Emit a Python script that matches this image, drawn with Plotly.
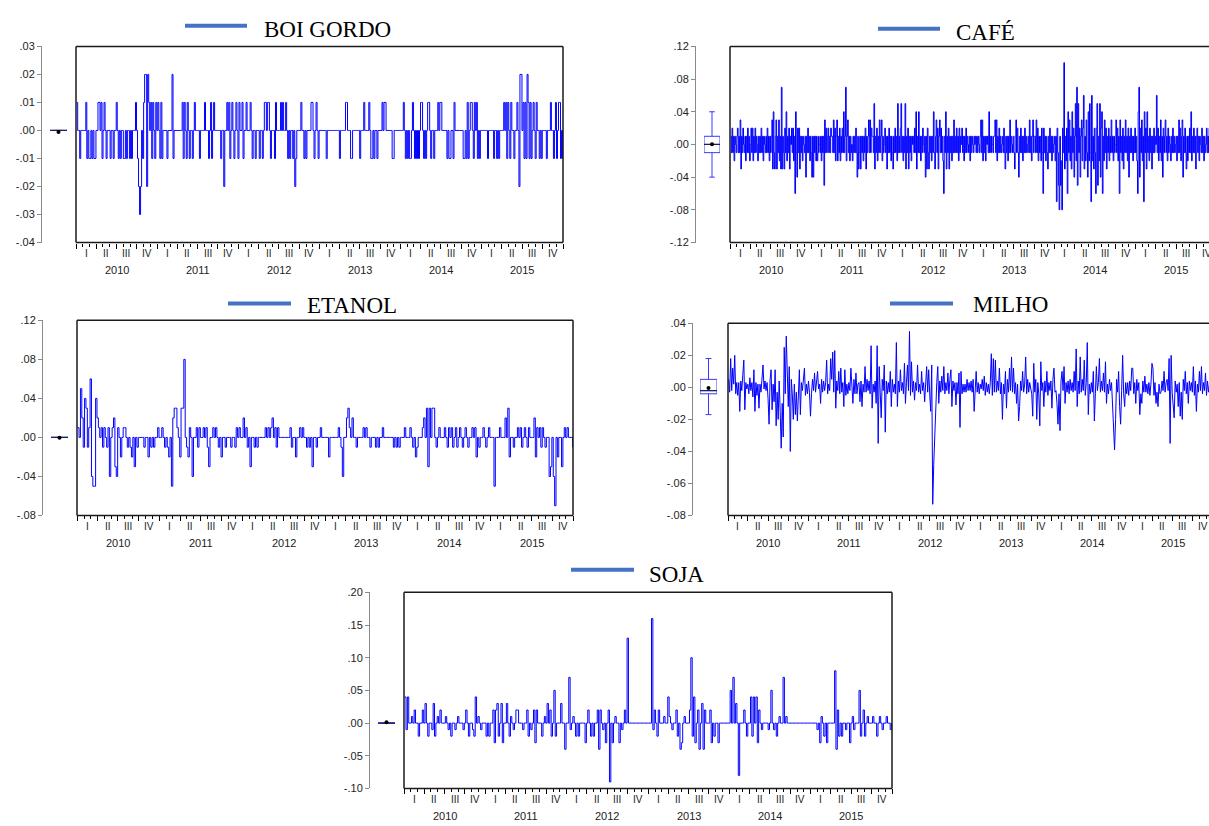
import numpy as np
import pandas as pd
import plotly.graph_objects as go

# ---------------------------------------------------------------- data
SERIES_NAMES = ["BOI GORDO", "CAFÉ", "ETANOL", "MILHO", "SOJA"]
YEARS = [2010, 2011, 2012, 2013, 2014, 2015]
QUARTER_LABELS = ["I", "II", "III", "IV"]

# daily changes (one row per quarter, 2010Q1 ... 2015Q4)
# BOI GORDO, in hundredths (0.01)
BOI_GORDO_CENTS = [
    1, 0, 0, -1, 0, 0, 0, 0, 0, 1, -1, 0, -1, -1, 0, -1, 0, -1, -1, 0,
    0, 1, 1, 0, 1, -1, 0, 1, 0, -1, 0, 0, 0, -1, 0, 0, -1, 0, 0, 1,
    0, -1, 0, -1, 0, 0, -1, -1, 0, -1, 0, 0, -1, 0, -1, 0, 0, 0, 1, 0,
    -1, -2, -3, -2, 0, -1, 1, 2, 2, -2, 2, 1, 0, 1, -1, 1, 0, -1, 1, 0,
    1, 0, -1, 1, -1, 0, 0, 0, 0, -1, 0, 0, 0, 0, 2, -1, 0, 0, 0, 0,
    0, 0, 0, 0, 1, -1, 1, 0, -1, 1, 0, -1, 0, 0, -1, 0, 1, 0, 0, 0,
    0, -1, 0, 0, 0, 0, 1, 0, 0, 0, -1, 0, 1, -1, 0, 1, 0, 0, 0, 0,
    0, 0, -1, 0, 0, -2, 0, 0, 1, 0, 1, -1, 0, 1, 0, -1, 0, 1, 0, -1,
    1, 0, 0, 1, -1, 0, 0, 1, 0, 0, 0, 1, 0, -1, 0, 0, -1, 0, 0, 0,
    -1, 0, 0, -1, 0, 1, 1, 0, 1, 1, 0, -1, 0, 0, 0, -1, 1, 0, 0, 0,
    0, 1, 0, 1, 0, 0, 1, 0, -1, 0, -1, 0, 0, -1, 0, -2, -1, 0, 0, 0,
    0, 1, 0, 0, -1, 0, -1, 0, 0, 0, 0, 1, 1, 0, -1, 0, 1, 0, -1, 0,
    0, 0, 0, 0, 0, 0, -1, 0, 0, 0, 0, 0, 0, 0, 0, 0, 0, 0, 0, -1,
    0, 0, 0, 0, 0, 1, 1, 0, 0, 0, -1, -1, 0, 0, 0, 0, 0, 0, 0, -1,
    0, 0, 0, 1, 0, 0, 0, 0, 1, 0, -1, -1, 0, -1, 0, 0, -1, 0, 0, 0,
    0, 1, 0, 1, 1, 0, 0, 0, 0, 0, 0, -1, -1, 0, 0, 0, 0, 0, 0, 0,
    0, 0, 1, 0, -1, 0, -1, 0, -1, -1, 0, 1, 0, -1, 0, -1, 0, -1, 0, 1,
    1, 0, -1, 0, -1, 0, 1, 1, 0, -1, 0, 0, -1, 0, 0, 0, 1, 0, 1, 1,
    0, 0, 0, 0, 0, -1, 0, -1, -1, 0, 0, -1, 1, 0, 0, 0, 0, 0, 0, 0,
    0, -1, -1, 0, -1, 1, -1, 0, 1, 1, 0, -1, 1, 0, 1, -1, 0, -1, 0, 0,
    0, 0, 0, 0, 0, -1, 0, 0, 0, 0, 0, -1, 0, 0, -1, 0, -1, 0, 0, 0,
    0, 1, 0, 1, -1, 1, 0, -1, 1, 0, 0, -1, 0, 0, 1, 0, -2, 2, 2, 0,
    1, -1, 1, -1, 2, 1, -1, 1, -1, 0, 1, 0, -1, 1, 0, 0, -1, 0, -1, 0,
    0, 0, 0, -1, 0, 0, 0, 1, 0, 0, -1, 0, 1, -1, 0, 1, 1, -1, 0, -1,
]

# CAFE, in hundredths (0.01)
CAFE_CENTS = [
    1, -1, 2, -1, 1, -2, 1, 0, -1, 1, 2, -1, 1, -1, 3, -3, 1, -1, 2, 0, -1, 1, -2, 1, -1, 2, -1, 1, -2, 0,
    2, -1, 2, -2, 1, -1, 2, -1, 1, 0, -2, 1, -1, 1, -1, 2, -1, 1, -2, 1, 0, -1, 1, -1, 2, -1, 1, -2, 1, -1,
    1, 3, -3, 4, -1, -3, 1, 3, -3, 1, -1, 3, -2, 1, -3, 7, -3, 1, -1, -3, 2, -1, 4, -2, 1, -1, 2, -3, 1, 0,
    2, -1, 2, -2, 1, -6, 4, -1, -4, 2, -1, 2, -3, 1, -1, 1, -2, 1, 0, -1, 1, -4, 1, -1, 2, -1, 1, -2, 1, -1,
    -4, 1, -4, 1, -1, 1, -2, 1, -2, -1, 1, 0, -1, 1, -2, 1, -1, 1, -5, 3, -1, 2, -1, 1, 2, -1, 1, -1, 2, 1,
    1, -1, 3, -1, 2, -2, 1, 3, -2, 1, -1, 2, -2, 1, -1, 2, -1, 4, -1, 1, 7, -2, 1, 3, -1, 1, -2, 1, -1, 0,
    -2, 1, -1, 1, -1, 2, -1, -4, 1, -3, -1, 1, -3, 1, -1, 1, -2, 1, -1, 2, -3, 1, -1, 1, 3, -1, 3, -1, 2, 1,
    1, -1, 5, -3, 1, -1, 2, -2, 1, -1, 3, -1, 1, 3, -2, 1, -1, 0, 2, -1, 1, -3, 1, -1, 2, -1, 1, -2, 1, -1,
    -3, 1, -1, 2, -1, 1, -2, 5, -1, 1, -1, 2, 5, -1, 1, -2, 1, -1, 5, -3, 1, -1, 2, -3, 1, -1, 1, -2, 1, 0,
    1, -1, 2, -1, 4, -3, 1, -1, 4, -1, 1, -2, 1, -1, 2, 0, -1, 1, -4, 1, -3, 2, -1, -3, 1, -1, 1, -2, 1, -1,
    4, -1, -3, 1, 3, -1, 2, -3, 1, 3, -1, 2, -1, 1, -2, -6, 1, -1, 4, -3, 1, -1, 2, -3, 1, -1, 1, -2, 1, -1,
    3, -1, 1, -1, 2, -1, 1, -2, 2, -1, 1, 0, 2, -1, 1, -2, 1, -1, 2, -1, 1, 0, -1, 1, -2, 1, -1, 1, 0, -1,
    1, 0, 1, -1, 1, -1, 1, 0, -1, 1, 3, -1, 3, -2, 1, -1, 1, -2, 1, 0, 1, -1, 4, -1, 1, -1, 1, 0, -1, 1,
    1, 3, -1, 3, -2, 1, -1, 2, -1, 1, -1, 0, 1, -1, 2, -1, -3, 1, -1, 1, -2, 1, -1, 3, -1, 1, 0, -1, 1, -1,
    -3, 1, 3, -1, 2, -1, -4, 1, -1, 2, -1, 1, -2, 1, -1, 2, -1, 1, -1, 0, 1, -1, 3, -1, 1, -2, 1, 3, -1, 1,
    1, -1, 3, -1, 2, -2, 1, -1, 1, -2, 2, -1, -6, 2, -1, 1, -2, 1, -1, -3, 1, -1, 2, -1, 1, -2, 1, -1, 0, 1,
    -2, 1, -7, 2, -1, -5, -8, 1, -5, -2, -8, 2, -1, 10, -3, 1, -2, 2, -6, 4, -1, 3, -2, 1, -3, 4, -1, 2, -4, 1,
    5, -2, 7, -5, 5, -1, 2, -4, 1, 3, -2, 2, 6, -3, 1, -2, 3, -1, -4, 4, -2, 5, -1, -7, 6, -2, 1, -3, 2, -1,
    -6, 2, 5, -5, 1, -2, 5, -4, 2, 4, -6, 1, -2, 3, -1, 2, -3, 1, -1, 2, -2, 1, -1, 3, -1, 1, -2, 1, -1, 0,
    3, -1, 2, -2, 1, -6, 3, -1, 1, -2, 2, -3, 1, -1, 3, -1, 1, -2, 2, -4, 1, -1, 2, -1, 1, -2, 1, -1, 2, -1,
    1, -2, -6, 4, 7, -4, 2, -1, 3, -2, 1, -7, 4, -1, 2, -3, 4, -1, 1, -2, 2, -1, 1, -3, 1, -1, 2, -1, 1, 0,
    6, -1, 2, -2, 1, -1, 3, -2, 1, -4, 2, -1, 1, 3, -1, 1, -2, 2, -1, 1, 0, -2, 1, -1, 2, -1, 1, -1, 0, 1,
    -2, 1, -1, 3, -1, 2, -2, 1, 3, -4, 1, -1, 2, -1, -3, 1, -2, 1, -1, 2, -1, 4, -2, 1, -1, 2, -1, 1, -3, 1,
    2, -1, 1, -2, 1, 0, -1, 2, -1, 1, -2, 1, -1, 0, 2, -1, 1, -1, 2, -2, 1, -1, 1, 0, -1, 2, -1, 1, -2, 1,
]

# ETANOL, in hundredths (0.01)
ETANOL_CENTS = [
    1, 0, 5, 2, -1, 4, 3, -1, 1, 6, -4, -5, -5, 4, 2,
    1, 0, 1, -1, 1, 0, -1, 1, -4, 0, 1, 2, -3, -4, 1,
    0, -2, 0, 1, 1, 0, -1, 0, -1, -2, 0, -3, 0, -1, 0,
    0, 0, 0, -1, 0, 0, -2, 0, -1, 0, -1, 0, 0, 1, 0,
    0, 1, 0, -1, 0, -1, -2, 0, -5, 2, 3, 3, 1, 0, -2,
    3, 3, 8, 0, -1, -2, 1, 0, -4, 0, 0, 1, -1, 1, 0,
    0, 1, 0, 1, -1, -3, 0, 0, 1, 0, 1, 0, -1, 0, -2,
    0, 0, -1, 0, 0, 0, -1, 0, 0, -1, 1, 0, 1, 0, 0,
    2, 0, 1, -1, 0, -3, 0, 0, -1, 0, -1, 0, 0, 0, 0,
    0, 1, 0, 1, 0, 1, 2, 0, 1, -1, 1, 0, 0, 0, 0,
    0, 0, 0, 0, 1, -1, 0, 0, -2, 0, 0, 1, 0, 1, 0,
    0, -1, 0, -1, 0, -3, 0, 0, -1, 0, 0, 1, 0, 0, 0,
    0, 0, -2, 0, 0, 0, 0, 0, 0, 1, 0, -1, -4, 0, 0,
    2, 3, 1, 0, 2, 0, 0, -1, 0, 0, 0, 0, 1, 0, 1,
    0, 0, -1, 0, 0, 0, -1, 0, -1, 0, 0, 1, 0, 0, 0,
    0, 0, 0, 0, -1, 0, -1, 0, -1, 0, 0, 0, 1, 0, 0,
    0, 1, 0, -1, 0, -2, -1, 0, 0, 0, 1, 2, 0, 3, -3,
    3, 0, 3, 3, 0, -1, 0, 1, 0, 0, 0, 1, 0, -1, 1,
    0, 1, -1, 0, 1, -1, 0, 1, 0, -1, 0, 1, 0, -1, 0,
    0, 1, 0, 1, -2, 0, -1, 0, 0, 1, 0, -1, 0, 1, 0,
    0, 0, -5, 0, 0, 0, 1, 0, 0, 0, 2, 0, 3, -2, 0,
    0, -1, 0, 0, 1, 0, 1, -1, 0, 1, 0, -1, 1, 0, 0,
    0, 2, -2, 1, 0, 1, -1, 1, 0, -1, 0, 0, -4, -3, 0,
    -4, -7, 0, -2, 0, 0, -3, 0, 1, 0, 1, 0, 0, 0, -1,
]

# MILHO, in thousandths (0.001)
MILHO_MILLS = [
    5, -3, 18, -2, 12, 2, 20, -4, 3, -5, 3, -15, 4, -2, 8, 17, -14, 3, -1, 2,
    -4, 6, -2, 3, -6, 11, -15, 3, -5, 2, -13, 2, -3, 5, 14, -1, 4, -2, 3, -7,
    -23, 5, 11, -14, 2, -9, 11, -24, -3, -20, 4, -15, -38, -10, -31, 25, -4, 32, 3, -12,
    13, -40, 5, -4, -20, 2, -17, -3, -21, 4, 11, -17, 3, -2, 6, 12, -5, 2, -4, 4,
    -3, -18, -4, 5, -2, 9, -3, 3, 10, -1, 2, -10, 5, -3, 4, -2, 3, 17, -4, 2,
    -2, 18, 5, 22, -3, 23, -13, 4, -2, 10, -4, 12, -3, 3, -12, 11, -5, 2, -4, 3,
    -2, 12, -3, -10, 5, -4, 9, -4, 2, 3, -9, 4, -12, 2, -3, 13, -3, 5, -2, 4,
    -4, 26, -13, 2, -3, 4, -10, 26, -35, 13, -3, -19, 5, -2, 14, -28, 4, -4, 3, -3,
    10, -12, 5, -3, 2, -4, 28, -12, 4, -3, 11, -2, 3, -4, 15, -10, 3, 14, -2, 35,
    -5, 16, -3, 4, -8, 3, -2, 14, -3, 2, -4, 10, -2, 3, -9, 5, 13, -3, 11, -4,
    -15, 14, -73, -48, -28, -8, 3, 13, -10, 4, -3, 7, -2, 13, -4, 3, -2, 9, -4, 5,
    11, -12, 4, -2, 3, -11, 3, -4, 9, -25, 10, -4, 2, -3, 2, -3, 5, -2, 3, -2,
    4, -3, 5, -15, 2, 10, -3, 3, -4, 2, -1, 5, -2, 7, -5, 3, -3, 2, -4, 3,
    21, -5, 18, -3, 17, -3, 4, -2, 12, -4, 3, -20, 2, -4, 10, -13, 5, -3, 12, -2,
    19, -3, 12, -4, 3, -10, 2, -21, -12, 4, -2, 10, -3, 2, 19, -4, 5, -3, 3, -2,
    -4, -18, 15, -3, 5, -20, 3, -4, -24, 16, -2, 3, -12, 4, -3, 10, -5, 3, -2, 4,
    -13, 5, 12, -3, -2, -10, -23, -4, -27, 4, 10, -2, 13, -10, 3, -3, 4, -4, 5, -2,
    3, -3, 10, -2, 24, -12, 4, -4, 19, -3, 5, -2, 17, -5, 3, 28, -17, 2, -4, 3,
    -3, 10, -21, -4, 13, -2, 3, 18, -3, 4, -2, 9, -3, 16, -10, 2, -4, 5, -2, 3,
    -10, -22, -39, -20, 5, -3, 10, -12, -23, -2, 20, -4, -12, 3, -4, 3, -5, 4, -2, 12,
    12, -4, 3, -10, 5, -2, 3, -17, -4, -10, 4, -3, 7, -3, 2, -4, 3, -5, 2, 15,
    12, -5, 3, -10, -3, -12, 2, -4, -3, 4, -2, 10, -3, 3, 5, -2, 18, -35, 20, -3,
    -10, -19, 4, -3, 2, -12, 3, -18, -3, -20, 5, -2, 10, -4, 3, -10, 4, -2, 3, -3,
    13, -5, 4, -15, 2, -3, 10, -2, 13, -4, 3, -2, 9, -5, 4, -3, 2, -4, 5, -2,
]

# SOJA, in hundredths (0.01)
SOJA_CENTS = [
    4, -1, 4, 0, 0, 1, 0, 2, 0, 0, -2, 0, 0, 2, 0,
    3, 0, -2, 0, 0, -1, 3, -2, 0, 1, 0, 2, 0, 0, 0,
    1, 0, -1, 0, -2, 0, 0, -1, 0, 1, 0, 0, 0, -1, 0,
    2, 0, -2, 0, 0, -1, -2, 4, 0, 1, 0, -1, 0, 0, 0,
    -2, 0, -2, 0, 0, 2, -3, 2, 3, -2, 0, 3, -3, 0, 0,
    3, 0, -2, 1, 0, -1, 0, 2, 2, 0, 0, 0, -1, 0, 0,
    2, -2, 0, -1, 0, 2, -3, 2, 0, 0, 0, -2, 0, 1, 0,
    3, 0, 2, -2, 0, 5, -2, 0, 0, 0, 3, 0, 0, -4, 0,
    0, 7, -1, 0, 1, 0, -2, 0, -2, 0, 0, 0, 0, -3, 0,
    2, 0, -2, 0, -2, 0, 0, 2, -4, 2, 0, -1, 0, -3, 0,
    2, -9, 0, -3, 0, 1, 0, 0, -3, 0, -1, 0, 2, 0, 13,
    0, 0, 0, 0, 0, 0, 0, 0, 0, 0, 0, 0, 0, 0, 0,
    0, 0, 16, -1, 2, 0, -2, 2, 0, 0, 0, 1, 0, 0, 4,
    1, 0, -1, 0, 0, 2, -2, 0, -4, -3, 0, 1, 0, 0, 0,
    2, 10, -2, 4, -3, 0, 2, -4, 0, 3, -4, 2, 0, 0, 0,
    2, -3, 0, -2, 0, 0, -3, 0, 0, 0, 0, 0, 0, 0, 0,
    5, 0, 7, 0, 3, 0, -8, 0, 0, 0, 2, 0, -2, 0, 0,
    4, -2, 4, 0, 4, -3, 2, 0, -1, 0, 0, 0, 0, -1, 0,
    5, 0, -1, 0, -2, 0, 1, 0, 0, 7, 0, 1, 0, 0, 0,
    0, 0, 0, 0, 0, 0, 0, 0, 0, 0, 0, 0, 0, 0, 0,
    0, 0, 0, 0, -1, 0, -3, 1, 0, -2, 0, -3, 0, 0, 0,
    0, 0, 8, -4, 2, -2, 0, -2, 0, 0, -1, 0, 0, -3, 0,
    1, -1, 0, 0, 0, 5, -2, 0, 2, -2, 0, 1, 0, 0, 0,
    1, 0, 0, -2, 0, 1, 0, -1, 0, 0, 1, 0, 0, -1, 0,
]

BOI_GORDO_TICKS = [-0.04, -0.03, -0.02, -0.01, 0.00, 0.01, 0.02, 0.03]
CAFE_TICKS = [-0.12, -0.08, -0.04, 0.00, 0.04, 0.08, 0.12]
ETANOL_TICKS = [-0.08, -0.04, 0.00, 0.04, 0.08, 0.12]
MILHO_TICKS = [-0.08, -0.06, -0.04, -0.02, 0.00, 0.02, 0.04]
SOJA_TICKS = [-0.10, -0.05, 0.00, 0.05, 0.10, 0.15, 0.20]

# ---------------------------------------------------------------- layout
W, H = 1209, 826
PERIOD_START = pd.Timestamp("2010-01-01")
PERIOD_END = pd.Timestamp("2016-01-01")
DATA_START = pd.Timestamp("2010-01-04")
DATA_END = pd.Timestamp("2015-12-30")

SERIF = "Liberation Serif, Times New Roman, serif"
SANS = "Liberation Sans, Arial, sans-serif"
LINE_BLUE = "#0000ff"
BOX_BLUE = "#3a3aff"
LEGEND_BLUE = "#4472c4"
AXIS_GRAY = "#8a8a8a"

# frame = (left, top, right, bottom) in pixels (right may fall beyond the page)
PANELS = [
    dict(vals=BOI_GORDO_CENTS, unit=0.01, ticks=BOI_GORDO_TICKS, shape="hv",
         frame=(76, 41, 563, 240), axis_x=41, box=(50, 67), leg=(185, 247, 20), txt=(262, 24)),
    dict(vals=CAFE_CENTS, unit=0.01, ticks=CAFE_TICKS, shape="hv",
         frame=(730, 41, 1217, 240), axis_x=695, box=(704, 720), leg=(878, 940, 23), txt=(954, 27)),
    dict(vals=ETANOL_CENTS, unit=0.01, ticks=ETANOL_TICKS, shape="hv",
         frame=(77, 319, 573, 517), axis_x=42, box=(51, 68), leg=(228, 291, 302), txt=(305, 304)),
    dict(vals=MILHO_MILLS, unit=0.001, ticks=MILHO_TICKS, shape="linear",
         frame=(728, 322, 1213, 517), axis_x=692, box=(700, 717), leg=(890, 953, 302), txt=(971, 303)),
    dict(vals=SOJA_CENTS, unit=0.01, ticks=SOJA_TICKS, shape="hv",
         frame=(404, 595, 892, 794), axis_x=369, box=(378, 395), leg=(571, 634, 572), txt=(647, 577)),
]


def fx(px):
    return px / W


def fy(py):
    return 1 - py / H


def tick_text(v):
    s = f"{v:.2f}"
    return s.replace("0.", ".", 1)


month_starts = pd.date_range(PERIOD_START, PERIOD_END, freq="MS")
quarter_starts = pd.date_range(PERIOD_START, PERIOD_END, freq="QS")

fig = go.Figure()
layout = dict(
    width=W, height=H, margin=dict(l=0, r=0, t=0, b=0),
    paper_bgcolor="white", plot_bgcolor="white", showlegend=False,
)
shapes, annotations = [], []

for i, p in enumerate(PANELS):
    k = i + 1
    kb = k + 5
    name = SERIES_NAMES[i]
    x0, y0, x1, y1 = p["frame"]
    vis_right = min(x1, W)
    span = PERIOD_END - PERIOD_START
    range_end = PERIOD_START + span * ((vis_right - x0) / (x1 - x0))
    ymin, ymax = min(p["ticks"]), max(p["ticks"])
    ydom = [fy(y1), fy(y0)]

    arr = np.array(p["vals"], dtype=float)
    unit = p["unit"]
    dates = pd.date_range(DATA_START, DATA_END, periods=len(arr))

    # main time-series axes
    layout[f"xaxis{k}"] = dict(
        domain=[fx(x0), fx(vis_right)], range=[PERIOD_START, range_end], type="date",
        anchor=f"y{k}", showgrid=False, zeroline=False, showline=False,
        ticks="outside", tickmode="array", tickvals=list(quarter_starts), ticklen=5,
        tickcolor="#000", tickwidth=1, showticklabels=False,
        minor=dict(ticks="outside", tickmode="array", tickvals=list(month_starts),
                   ticklen=3, tickcolor="#000", tickwidth=1),
    )
    layout[f"yaxis{k}"] = dict(domain=ydom, range=[ymin, ymax], anchor=f"x{k}",
                               visible=False, showgrid=False, zeroline=False)

    # box-plot axes (the visible value axis lives here)
    layout[f"xaxis{kb}"] = dict(domain=[fx(p["box"][0]), fx(p["box"][1])], range=[-0.5, 0.5],
                                type="linear", anchor=f"y{kb}", visible=False)
    layout[f"yaxis{kb}"] = dict(
        domain=ydom, range=[ymin, ymax], anchor="free", position=fx(p["axis_x"]), side="left",
        showline=True, linecolor=AXIS_GRAY, linewidth=1, showgrid=False, zeroline=False,
        ticks="outside", ticklen=4, tickcolor=AXIS_GRAY, tickmode="array",
        tickvals=p["ticks"], ticktext=[tick_text(v) for v in p["ticks"]],
        tickfont=dict(family=SANS, size=11, color="#222"),
    )

    fig.add_trace(go.Scatter(x=dates, y=arr * unit, mode="lines",
                             line=dict(color=LINE_BLUE, width=1, shape=p["shape"]),
                             xaxis=f"x{k}", yaxis=f"y{k}", hoverinfo="skip"))

    # box-plot statistics computed from the series
    q1, med, q3 = np.percentile(arr, [25, 50, 75])
    iqr = q3 - q1
    lo = arr[arr >= q1 - 1.5 * iqr].min()
    hi = arr[arr <= q3 + 1.5 * iqr].max()
    mean = arr.mean()
    fig.add_trace(go.Box(x=[0], q1=[q1 * unit], median=[med * unit], q3=[q3 * unit],
                         lowerfence=[lo * unit], upperfence=[hi * unit], width=1,
                         boxpoints=False, whiskerwidth=0.35, fillcolor="white",
                         line=dict(color=BOX_BLUE, width=1),
                         xaxis=f"x{kb}", yaxis=f"y{kb}", hoverinfo="skip"))
    fig.add_trace(go.Scatter(x=[-0.5, 0.5], y=[med * unit, med * unit], mode="lines",
                             line=dict(color="#202050", width=1.2),
                             xaxis=f"x{kb}", yaxis=f"y{kb}", hoverinfo="skip"))
    fig.add_trace(go.Scatter(x=[0], y=[mean * unit], mode="markers",
                             marker=dict(color="black", size=4),
                             xaxis=f"x{kb}", yaxis=f"y{kb}", hoverinfo="skip"))

    # frame
    fl = dict(color="#1a1a1a", width=1.5)
    shapes.append(dict(type="line", xref="paper", yref="paper", x0=fx(x0), x1=fx(x0),
                       y0=fy(y0), y1=fy(y1), line=fl))
    shapes.append(dict(type="line", xref="paper", yref="paper", x0=fx(x0), x1=fx(vis_right),
                       y0=fy(y0), y1=fy(y0), line=fl))
    shapes.append(dict(type="line", xref="paper", yref="paper", x0=fx(x0), x1=fx(vis_right),
                       y0=fy(y1), y1=fy(y1), line=fl))
    if x1 <= W:
        shapes.append(dict(type="line", xref="paper", yref="paper", x0=fx(x1), x1=fx(x1),
                           y0=fy(y0), y1=fy(y1), line=fl))

    # legend key
    lx0, lx1, ly = p["leg"]
    shapes.append(dict(type="line", xref="paper", yref="paper", x0=fx(lx0), x1=fx(lx1),
                       y0=fy(ly), y1=fy(ly), line=dict(color=LEGEND_BLUE, width=4)))
    annotations.append(dict(text=name, xref="paper", yref="paper", x=fx(p["txt"][0]),
                            y=fy(p["txt"][1]), xanchor="left", yanchor="middle",
                            showarrow=False, font=dict(family=SERIF, size=23, color="black")))

    # quarter and year labels
    for yr in YEARS:
        for q, lab in enumerate(QUARTER_LABELS):
            qs = pd.Timestamp(yr, 3 * q + 1, 1)
            qe = qs + pd.offsets.QuarterBegin(startingMonth=1)
            qc = qs + (qe - qs) / 2
            annotations.append(dict(text=lab, xref=f"x{k}", yref="paper", x=qc,
                                    y=fy(y1 + 11), xanchor="center", yanchor="middle",
                                    showarrow=False, font=dict(family=SANS, size=10, color="#222")))
        yc = pd.Timestamp(yr, 1, 1) + (pd.Timestamp(yr + 1, 1, 1) - pd.Timestamp(yr, 1, 1)) / 2
        annotations.append(dict(text=str(yr), xref=f"x{k}", yref="paper", x=yc,
                                y=fy(y1 + 28), xanchor="center", yanchor="middle",
                                showarrow=False, font=dict(family=SANS, size=11, color="#222")))

layout["shapes"] = shapes
layout["annotations"] = annotations
fig.update_layout(**layout)
fig.write_html("out.html", config={"displayModeBar": False},
               post_script="document.body.style.margin='0px';")
